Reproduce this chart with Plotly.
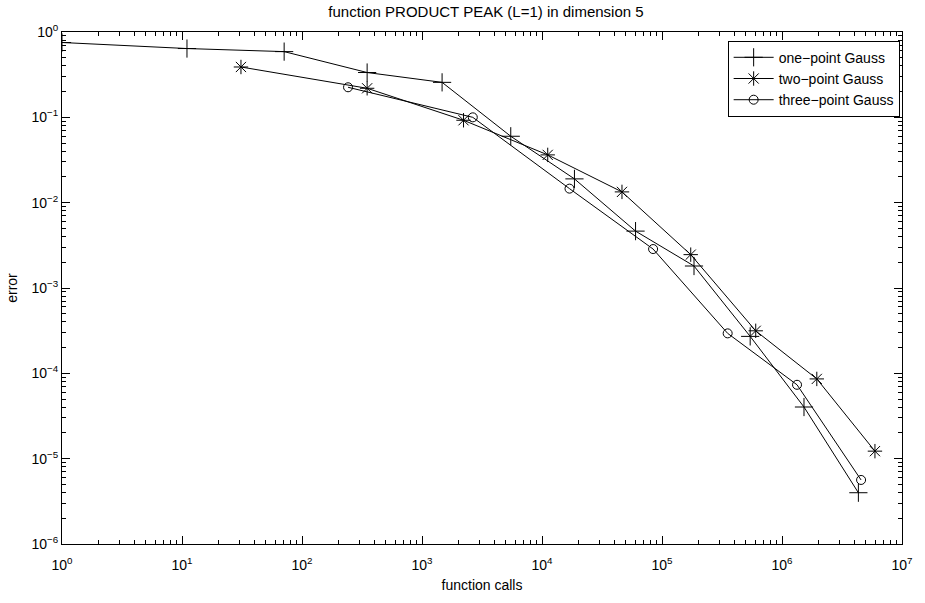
import plotly.graph_objects as go

# Data
one_x = [1, 11, 71, 349, 1470, 5490, 18640, 60200, 184800, 543000, 1.525e6, 4.33e6]
one_y = [0.753, 0.64, 0.589, 0.335, 0.257, 0.060, 0.019, 0.00464, 0.00181, 2.71e-4, 4.03e-5, 3.99e-6]

two_x = [31, 349, 2218, 11160, 46400, 173500, 604000, 1.95e6, 5.95e6]
two_y = [0.389, 0.219, 0.0924, 0.0363, 0.01337, 0.00246, 3.15e-4, 8.6e-5, 1.225e-5]

three_x = [242, 2650, 16950, 84300, 352600, 1.334e6, 4.56e6]
three_y = [0.225, 0.1, 0.0146, 0.00286, 2.94e-4, 7.34e-5, 5.63e-6]

x_exps = list(range(0, 8))
y_exps = list(range(-6, 1))
minor_mults = [2, 3, 4, 5, 6, 7, 8, 9]

x_major = [10.0 ** e for e in x_exps]
y_major = [10.0 ** e for e in y_exps]
x_minor = [m * 10.0 ** e for e in x_exps[:-1] for m in minor_mults]
y_minor = [m * 10.0 ** e for e in y_exps[:-1] for m in minor_mults]

FONT = "Liberation Sans, Arial, sans-serif"

fig = go.Figure()
fig.add_trace(go.Scatter(x=one_x, y=one_y, mode="lines+markers", name="one\u2212point Gauss",
                         line=dict(color="black", width=1),
                         marker=dict(symbol="cross-thin-open", size=13, line=dict(color="black", width=1))))
fig.add_trace(go.Scatter(x=two_x, y=two_y, mode="lines+markers", name="two\u2212point Gauss",
                         line=dict(color="black", width=1),
                         marker=dict(symbol="asterisk-open", size=12, line=dict(color="black", width=1))))
fig.add_trace(go.Scatter(x=three_x, y=three_y, mode="lines+markers", name="three\u2212point Gauss",
                         line=dict(color="black", width=1),
                         marker=dict(symbol="circle-open", size=9, color="black", line=dict(color="black", width=1))))
# invisible trace so that the minor-tick overlay axes get drawn
fig.add_trace(go.Scatter(x=[x_major[0]], y=[y_major[0]], xaxis="x2", yaxis="y2", mode="markers",
                         marker=dict(opacity=0), showlegend=False, hoverinfo="skip"))

axis_common = dict(showgrid=False, zeroline=False, showline=True, linecolor="black", linewidth=1,
                   mirror="allticks", ticks="inside", ticklen=8, tickcolor="black", tickwidth=1,
                   tickfont=dict(family=FONT, size=14, color="black"))

xr = [x_exps[0], x_exps[-1]]
yr = [y_exps[0], y_exps[-1]]

fig.update_layout(
    xaxis=dict(type="log", range=xr, tickvals=x_major,
               ticktext=[f"10<sup>{e}</sup>" for e in x_exps],
               ticklabelstandoff=8,
               title=dict(text="function calls", font=dict(family=FONT, size=14, color="black"), standoff=8),
               **axis_common),
    yaxis=dict(type="log", range=yr, tickvals=y_major,
               ticktext=[f"10<sup>{'\u2212' + str(-e) if e < 0 else e}</sup>" for e in y_exps],
               title=dict(text="error", font=dict(family=FONT, size=14, color="black"), standoff=10),
               **axis_common),
    xaxis2=dict(type="log", range=xr, overlaying="x", side="bottom", tickvals=x_minor,
                showticklabels=False, ticks="inside", ticklen=4, tickcolor="black", tickwidth=1,
                mirror="allticks", showline=False, showgrid=False, zeroline=False),
    yaxis2=dict(type="log", range=yr, overlaying="y", side="left", tickvals=y_minor,
                showticklabels=False, ticks="inside", ticklen=4, tickcolor="black", tickwidth=1,
                mirror="allticks", showline=False, showgrid=False, zeroline=False),
)

fig.update_layout(
    width=925, height=603,
    margin=dict(l=62, r=15, t=32, b=49),
    paper_bgcolor="white", plot_bgcolor="white",
    title=dict(text="function PRODUCT PEAK (L=1) in dimension 5", x=0.5 * (62 + 910) / 925, xanchor="center",
               y=1 - 12 / 603, yanchor="middle", yref="container",
               font=dict(family=FONT, size=15, color="black")),
    legend=dict(x=0.9972, y=0.983, xanchor="right", yanchor="top",
                bgcolor="white", bordercolor="black", borderwidth=1,
                font=dict(family=FONT, size=14, color="black"),
                tracegroupgap=0, itemwidth=40),
    showlegend=True,
)

fig.write_html("out.html", config={"displayModeBar": False},
               post_script="document.body.style.margin='0';document.body.style.overflow='hidden';")
